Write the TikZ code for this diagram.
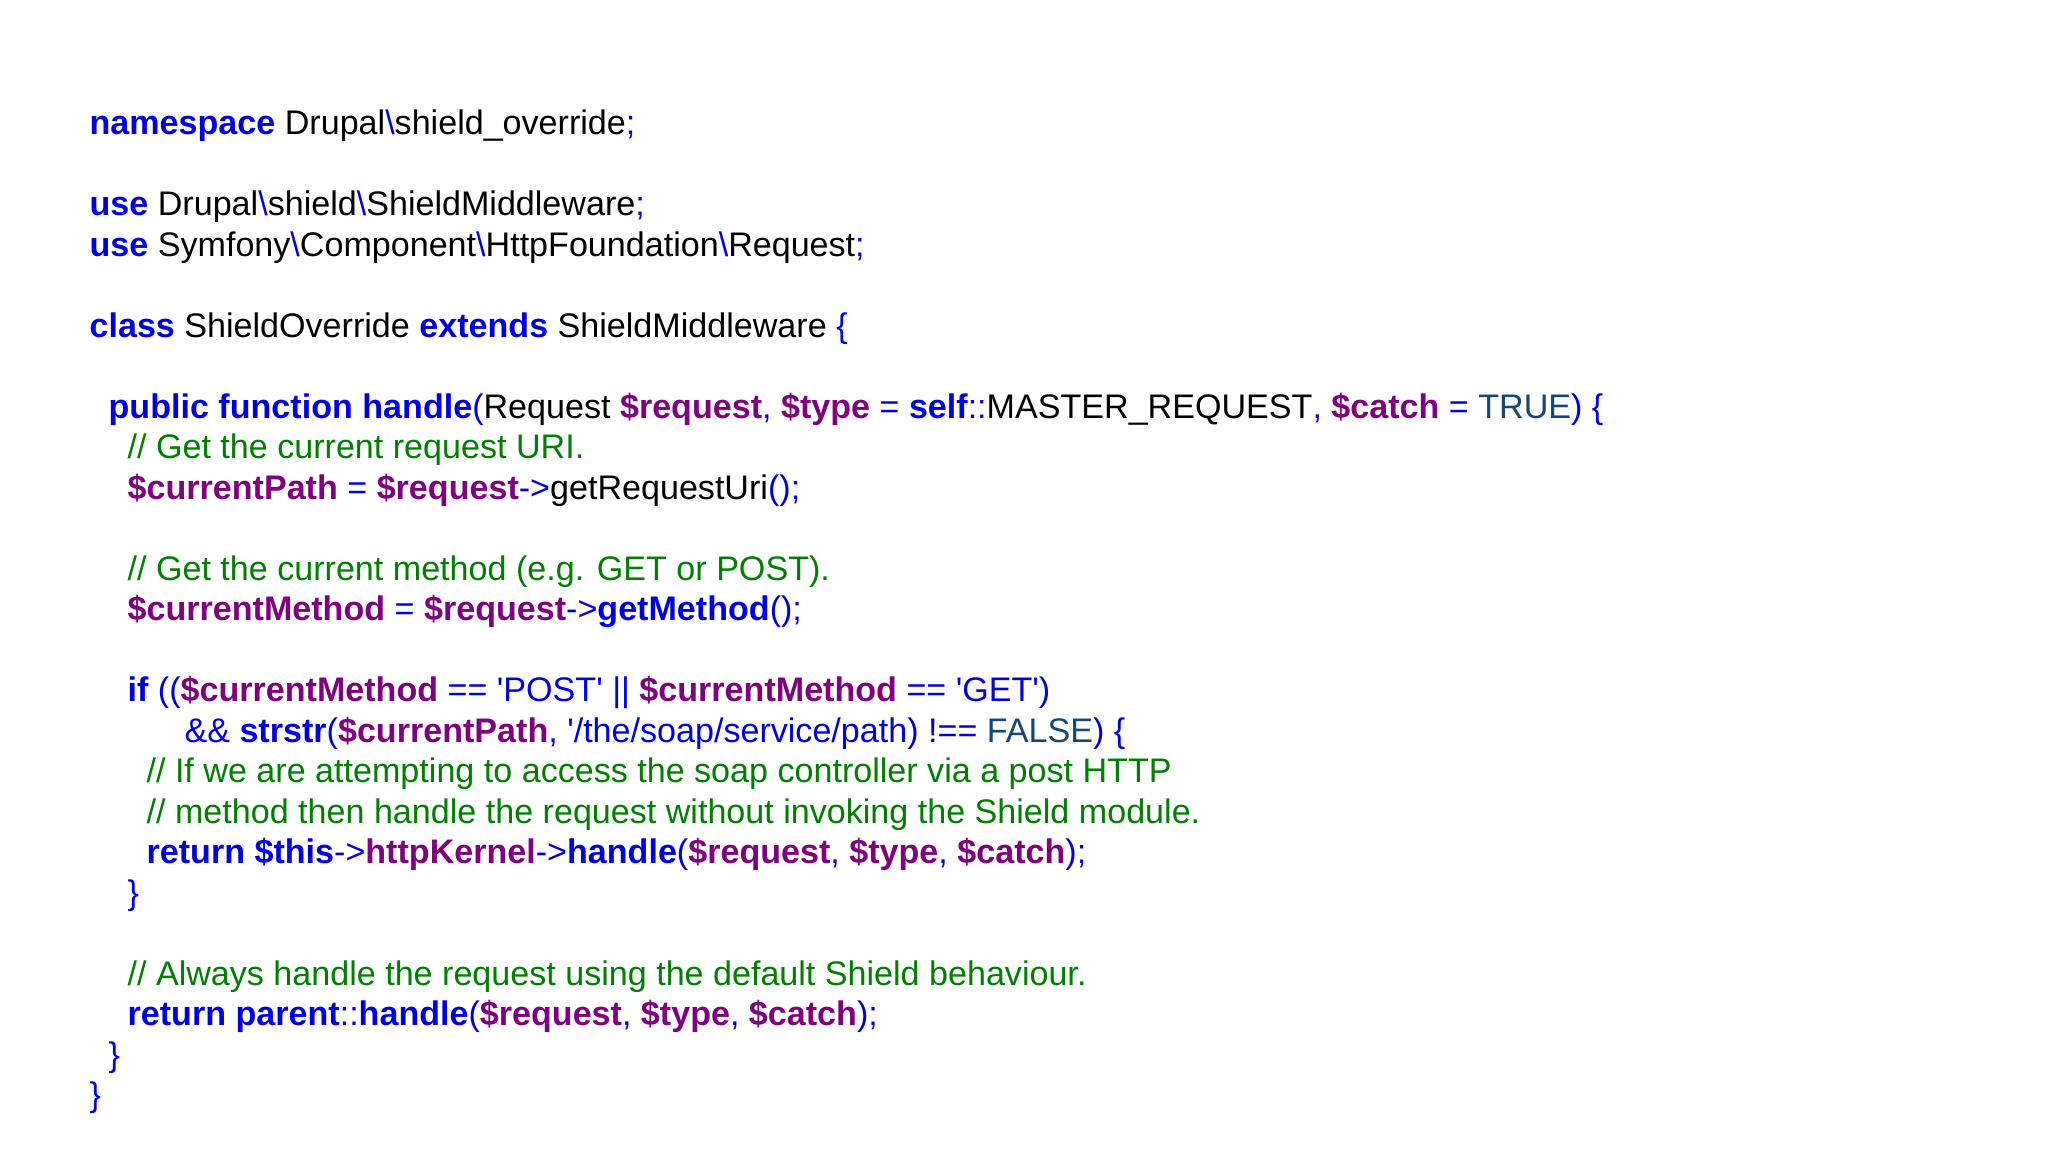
\documentclass[tikz,border=0pt]{standalone}
\usepackage{fontspec}
\setmainfont{Liberation Sans}[Ligatures=TeXOff]
\definecolor{kwc}{RGB}{0,0,230}
\definecolor{vrc}{RGB}{128,0,128}
\definecolor{cmc}{RGB}{0,128,0}
\definecolor{cnc}{RGB}{20,70,120}
\newcommand{\kw}[1]{\textcolor{kwc}{\bfseries #1}}
\newcommand{\vr}[1]{\textcolor{vrc}{\bfseries #1}}
\newcommand{\cm}[1]{\textcolor{cmc}{#1}}
\newcommand{\pu}[1]{\textcolor{kwc}{#1}}
\newcommand{\cn}[1]{\textcolor{cnc}{#1}}
\newcommand{\q}{\char"27\relax}
\newcommand{\bs}{\pu{\symbol{92}}}
\tikzset{codeline/.style={anchor=base west,inner sep=0pt,font=\fontsize{9.7pt}{11pt}\selectfont}}
\newcommand{\cl}[4]{\node[codeline] (#1) at (#2*0.01cm,{(1152-#3)*0.01cm}) {#4};}
\begin{document}
\begin{tikzpicture}
\useasboundingbox (0,0) rectangle (20.48cm,11.52cm);
\fill[white] (0,0) rectangle (20.48cm,11.52cm);
\cl{l1}{89}{134}{\kw{namespace} Drupal\bs shield\_override\pu{;}}
\cl{l2}{89}{215}{\kw{use} Drupal\bs shield\bs ShieldMiddleware\pu{;}}
\cl{l3}{89}{256}{\kw{use} Symfony\bs Component\bs HttpFoundation\bs Request\pu{;}}
\cl{l4}{89}{337}{\kw{class} ShieldOverride \kw{extends} ShieldMiddleware \pu{\{}}
\cl{l5}{108}{418}{\kw{public function handle}\pu{(}Request \vr{\$request}\pu{,} \vr{\$type} \pu{=} \kw{self}\pu{::}MASTER\_REQUEST\pu{,} \vr{\$catch} \pu{=} \cn{TRUE}\pu{) \{}}
\cl{l6}{127}{458}{\cm{// Get the current request URI.}}
\cl{l7}{127}{499}{\vr{\$currentPath} \pu{=} \vr{\$request}\pu{->}getRequestUri\pu{();}}
\cl{l8}{127}{580}{\cm{// Get the current method (e.g. GET or POST).}}
\cl{l9}{127}{620}{\vr{\$currentMethod} \pu{=} \vr{\$request}\pu{->}\kw{getMethod}\pu{();}}
\cl{l10}{127}{701}{\kw{if} \pu{((}\vr{\$currentMethod} \pu{== \q POST\q\ ||} \vr{\$currentMethod} \pu{== \q GET\q)}}
\cl{l11}{184}{742}{\pu{\&\&} \kw{strstr}\pu{(}\vr{\$currentPath}\pu{, \q/the/soap/service/path) !==} \cn{FALSE}\pu{) \{}}
\cl{l12}{146}{782}{\cm{// If we are attempting to access the soap controller via a post HTTP}}
\cl{l13}{146}{823}{\cm{// method then handle the request without invoking the Shield module.}}
\cl{l14}{146}{863}{\kw{return \$this}\pu{->}\vr{httpKernel}\pu{->}\kw{handle}\pu{(}\vr{\$request}\pu{,} \vr{\$type}\pu{,} \vr{\$catch}\pu{);}}
\cl{l15}{127}{904}{\pu{\}}}
\cl{l16}{127}{985}{\cm{// Always handle the request using the default Shield behaviour.}}
\cl{l17}{127}{1025}{\kw{return parent}\pu{::}\kw{handle}\pu{(}\vr{\$request}\pu{,} \vr{\$type}\pu{,} \vr{\$catch}\pu{);}}
\cl{l18}{108}{1066}{\pu{\}}}
\cl{l19}{89}{1106}{\pu{\}}}
\end{tikzpicture}
\end{document}
